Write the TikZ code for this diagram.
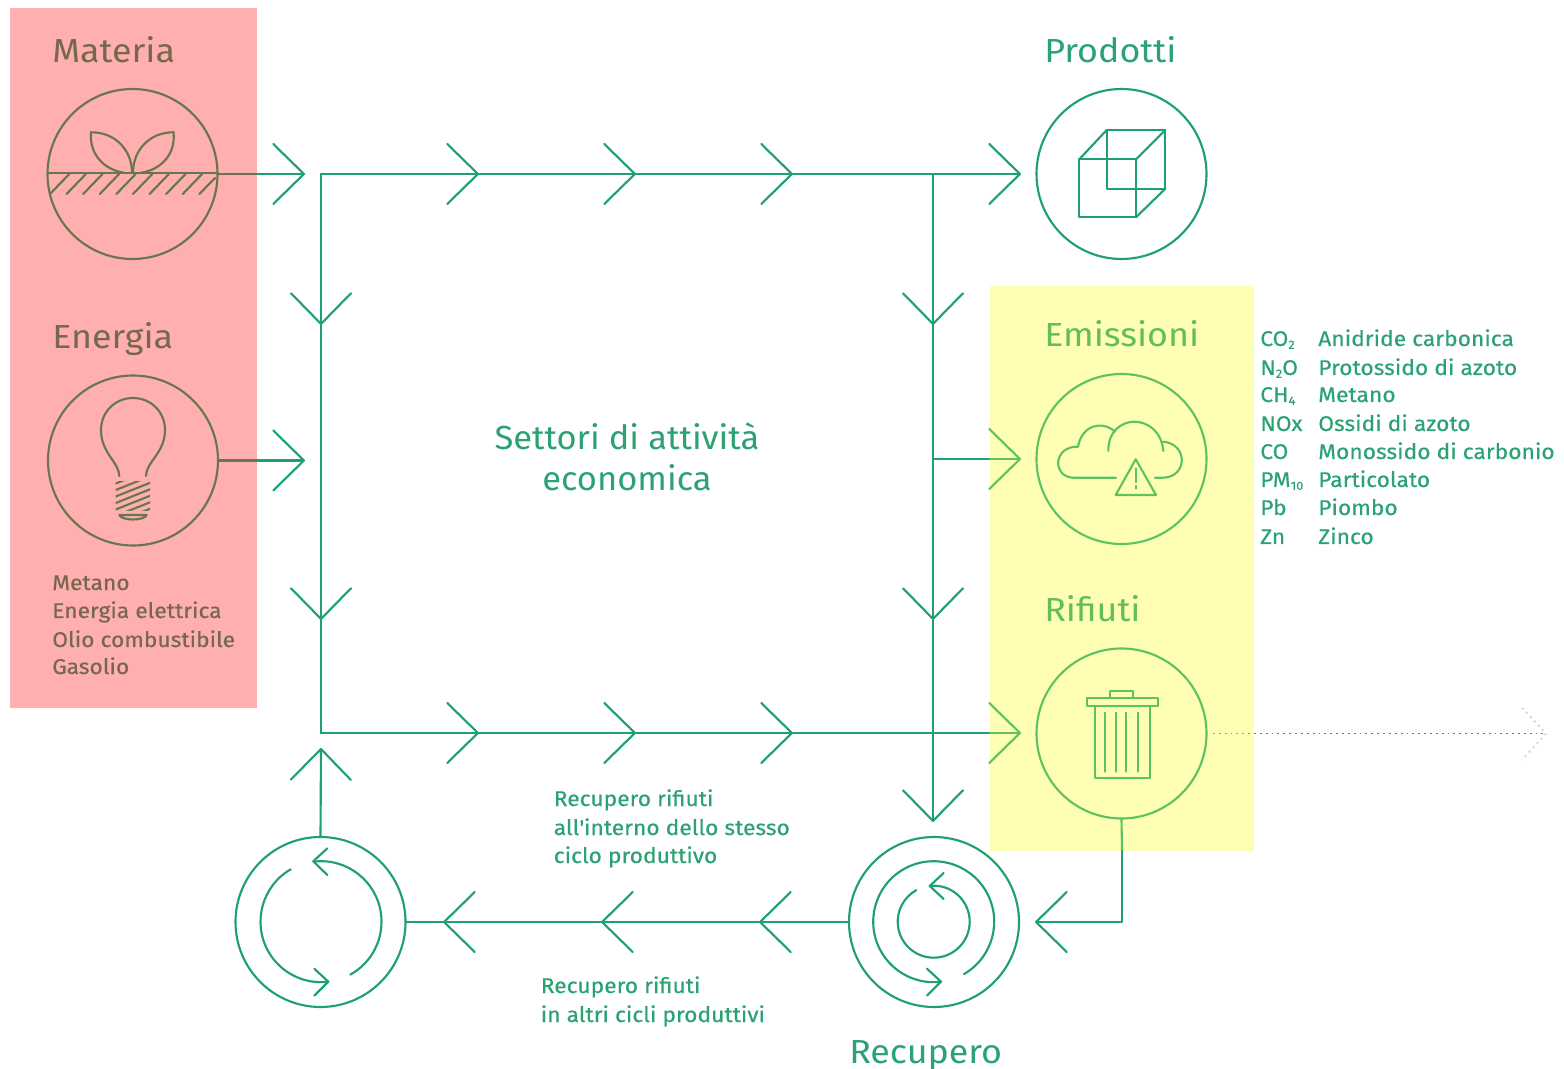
\documentclass[tikz,border=0pt]{standalone}
\usepackage{fontspec}
\setmainfont{Fira Sans}
\newfontfamily\headf[FakeStretch=1.075]{Fira Sans}
\newfontfamily\centf[FakeStretch=1.035]{Fira Sans}
\newfontfamily\bodyf[FakeStretch=1.07,FakeBold=0.35]{Fira Sans}
\usetikzlibrary{arrows.meta}
\definecolor{gr}{HTML}{1FA071}
\definecolor{ol}{HTML}{66774F}
\definecolor{lm}{HTML}{5CC363}
\definecolor{olt}{HTML}{76684F}
\definecolor{pinkbg}{HTML}{FFAFAF}
\definecolor{yelbg}{HTML}{FFFFB3}
\definecolor{txt}{HTML}{2BA274}
\definecolor{lmt}{HTML}{62BE5C}
\definecolor{fade}{HTML}{BFDFD2}
\newcommand{\subs}[1]{\raisebox{-0.25ex}{\fontsize{9pt}{9pt}\selectfont #1}}
\tikzset{
  x=0.75pt,y=-0.75pt,
  ln/.style={line width=1.6pt,line cap=round,line join=round},
  disc/.style={circle,draw,line width=1.6pt,minimum size=127.5pt,inner sep=0pt,outer sep=0pt},
  chev/.style={-{Straight Barb[length=23pt,width=45pt,line width=1.6pt,round]}},
  head/.style={anchor=base west,inner sep=0pt,font=\headf\fontsize{25pt}{25pt}\selectfont},
  cent/.style={anchor=base,inner sep=0pt,font=\centf\fontsize{25pt}{25pt}\selectfont},
  body/.style={anchor=base west,inner sep=0pt,font=\bodyf\fontsize{16pt}{16pt}\selectfont},
  dots/.style={line width=1.4pt,dash pattern=on 1.4pt off 3pt},
}
\begin{document}
\begin{tikzpicture}
\useasboundingbox (0,0) rectangle (1564,1069);
\fill[white] (0,0) rectangle (1564,1069);
\fill[pinkbg] (10,8) rectangle (257,708);
\fill[yelbg] (990,286) rectangle (1254,851);

% discs
\node[disc,draw=ol] (materia) at (132.5,174) {};
\node[disc,draw=ol] (energia) at (133,460.5) {};
\node[disc,draw=gr] (prodotti) at (1121.5,174) {};
\node[disc,draw=lm] (emissioni) at (1121.5,459) {};
\node[disc,draw=lm] (rifiuti) at (1121.5,733.5) {};
\node[disc,draw=gr] (riciclo) at (320.5,922) {};
\node[disc,draw=gr] (recupero) at (934,922) {};

% junction coordinates
\coordinate (pk1) at (257,174); \coordinate (mt) at (305,174);
\coordinate (pk2) at (257,460.5); \coordinate (et) at (305,460.5);
\coordinate (tl) at (321,174); \coordinate (t1) at (479,174); \coordinate (t2) at (636,174);
\coordinate (t3) at (793,174); \coordinate (tj) at (933,174); \coordinate (t4) at (1021,174);
\coordinate (l1) at (321,325); \coordinate (l2) at (321,620); \coordinate (bl) at (321,733);
\coordinate (b1) at (479,733); \coordinate (b2) at (636,733); \coordinate (b3) at (793,733);
\coordinate (bj) at (933,733); \coordinate (by) at (990,733); \coordinate (b4) at (1021,733);
\coordinate (r1) at (933,325); \coordinate (rj) at (933,459); \coordinate (r2) at (933,620);
\coordinate (r3) at (933,822); \coordinate (ry) at (990,459); \coordinate (r4) at (1021,459);
\coordinate (w0) at (1122,851); \coordinate (w1) at (1122,922); \coordinate (w2) at (1035,922);
\coordinate (c1) at (759,922); \coordinate (c2) at (601,922); \coordinate (c3) at (443,922);
\coordinate (up) at (321,748);
\coordinate (d0) at (1213,733.5); \coordinate (d1) at (1254,733.5); \coordinate (d2) at (1546,733.5);
\coordinate (d3) at (1522,708); \coordinate (d4) at (1522,760);

% connectors
\draw[ln,ol] (materia.east) -- (pk1);
\draw[ln,gr,chev] (pk1) -- (mt);
\draw[ln,ol] (energia.east) -- (pk2);
\draw[ln,gr,chev] (pk2) -- (et);
\draw[ln,gr,chev] (tl) -- (t1);
\draw[ln,gr,chev] (t1) -- (t2);
\draw[ln,gr,chev] (t2) -- (t3);
\draw[ln,gr,chev] (t3) -- (t4);
\draw[ln,gr,chev] (tl) -- (l1);
\draw[ln,gr,chev] (l1) -- (l2);
\draw[ln,gr] (l2) -- (bl);
\draw[ln,gr,chev] (bl) -- (b1);
\draw[ln,gr,chev] (b1) -- (b2);
\draw[ln,gr,chev] (b2) -- (b3);
\draw[ln,gr] (b3) -- (by);
\draw[ln,lm,chev] (by) -- (b4);
\draw[ln,gr,chev] (tj) -- (r1);
\draw[ln,gr,chev] (r1) -- (r2);
\draw[ln,gr,chev] (r2) -- (r3);
\draw[ln,gr] (rj) -- (ry);
\draw[ln,lm,chev] (ry) -- (r4);
\draw[ln,lm] (rifiuti.south) -- (w0);
\draw[ln,gr,chev] (w0) -- (w1) -- (w2);
\draw[ln,gr,chev] (recupero.west) -- (c1);
\draw[ln,gr,chev] (c1) -- (c2);
\draw[ln,gr,chev] (c2) -- (c3);
\draw[ln,gr] (c3) -- (riciclo.east);
\draw[ln,gr,chev] (riciclo.north) -- (up);
\draw[dots,lm] (d0) -- (d1);
\draw[dots,gr] (d1) -- (d2);
\draw[dots,fade] (d3) -- (d2) -- (d4);

% plant icon
\begin{scope}[ln,ol]
\draw (48,172.7) -- (217,172.7);
\draw (91,132.3) .. controls (115,132) and (132,150) .. (132,172.7);
\draw (91,132.3) .. controls (89,155) and (105,170) .. (124,172.7);
\draw (173.5,132.3) .. controls (150,132) and (133,150) .. (133,172.7);
\draw (173.5,132.3) .. controls (176,155) and (160,170) .. (141,172.7);
\foreach \i in {0,...,8}{
  \draw ({69.3+16.6*\i},174) -- ({50+16.6*\i},194);
}
\draw (215,178) -- (199.4,194);
\end{scope}

% bulb icon
\begin{scope}[ln,ol]
\draw (119.3,476) .. controls (119,462) and (101,453) .. (101,430)
   .. controls (101,412) and (115,398) .. (133,398)
   .. controls (151,398) and (165,412) .. (165,430)
   .. controls (165,453) and (146,462) .. (146,476);
\begin{scope}
\clip (115.5,481.5) rectangle (150,510.5);
\foreach \y in {485,491.5,...,530}{
  \draw[line cap=butt] (112,\y) -- (152,{\y-16});
}
\end{scope}
\draw (119.3,515) -- (146.7,515) .. controls (144,521) and (122,521) .. cycle;
\end{scope}

% cube icon
\begin{scope}[ln,gr]
\draw (1079.3,159.3) rectangle (1136,217.3);
\draw (1106.7,130) rectangle (1165.3,188.7);
\draw (1079.3,159.3) -- (1106.7,130);
\draw (1136,159.3) -- (1165.3,130);
\draw (1136,217.3) -- (1165.3,188.7);
\end{scope}

% cloud icon
\begin{scope}[ln,lm]
\draw (1116,477.7) -- (1073.3,477.7) .. controls (1052,477) and (1053,446) .. (1078,446.7)
   .. controls (1082,425) and (1102,420) .. (1115,431.7);
\draw (1108.3,451) .. controls (1108,412) and (1160,412) .. (1163.3,451);
\draw (1163.3,441.7) .. controls (1188,444) and (1188,477) .. (1163,477.7) -- (1155,477.7);
\draw (1135.7,459.3) -- (1115.7,495) -- (1156,495) -- cycle;
\draw (1135.7,468.3) -- (1135.7,482.3);
\draw (1135.7,486) -- (1135.7,488.5);
\end{scope}

% bin icon
\begin{scope}[ln,lm]
\draw (1087.3,698.3) rectangle (1157.7,706);
\draw (1110.3,698.3) rectangle (1132.7,690.7);
\draw (1095,706) rectangle (1150,778.3);
\foreach \x in {1104.7,1116.3,1126.3,1138}{ \draw (\x,712.7) -- (\x,771.7); }
\end{scope}

% cycle icon, left
\begin{scope}[ln,gr,shift={(321,921.7)}]
\draw (-97:60.5) arc[start angle=-97,end angle=61,radius=60.5];
\draw (-120:60.5) arc[start angle=-120,end angle=-277,radius=60.5];
\draw (6.3,-73.3) -- (-7.7,-60.5) -- (6.3,-46.7);
\draw (-6.7,47) -- (7.3,60) -- (-6.7,74);
\end{scope}

% cycle icon, right
\begin{scope}[ln,gr,shift={(933.7,921.7)}]
\draw (60:60.5) arc[start angle=60,end angle=-277,radius=60.5];
\draw (-96:36) arc[start angle=-96,end angle=241,radius=36];
\draw (-6.7,47) -- (7.3,60) -- (-6.7,74);
\draw (10,-48.7) -- (-4,-35.7) -- (10,-22.7);
\end{scope}

% texts
\node[head,text=olt] (tmateria) at (52,63) {Materia};
\node[head,text=olt] (tenergia) at (52,349) {Energia};
\node[head,text=txt] (tprodotti) at (1044,63) {Prodotti};
\node[head,text=lmt] (temissioni) at (1044,347) {Emissioni};
\node[head,text=lmt] (trifiuti) at (1044,621) {Rifiuti};
\node[head,text=txt] (trecupero) at (849,1063) {Recupero};
\node[cent,text=txt] (tsett1) at (627,450) {Settori di attività};
\node[cent,text=txt] (tsett2) at (627,491) {economica};
\node[body,text=olt] (m1) at (52,590) {Metano};
\node[body,text=olt] (m2) at (52,618) {Energia elettrica};
\node[body,text=olt] (m3) at (52,647) {Olio combustibile};
\node[body,text=olt] (m4) at (52,674) {Gasolio};
\node[body,text=txt] (ra1) at (553.5,806) {Recupero rifiuti};
\node[body,text=txt] (ra2) at (553.5,835) {all\textquotesingle interno dello stesso};
\node[body,text=txt] (ra3) at (553.5,863) {ciclo produttivo};
\node[body,text=txt] (rb1) at (540.5,993) {Recupero rifiuti};
\node[body,text=txt] (rb2) at (540.5,1022) {in altri cicli produttivi};
\node[body,text=txt] (k1) at (1260,346) {CO\subs{2}};
\node[body,text=txt] (v1) at (1318,346) {Anidride carbonica};
\node[body,text=txt] (k2) at (1260,375) {N\subs{2}O};
\node[body,text=txt] (v2) at (1318,375) {Protossido di azoto};
\node[body,text=txt] (k3) at (1260,402) {CH\subs{4}};
\node[body,text=txt] (v3) at (1318,402) {Metano};
\node[body,text=txt] (k4) at (1260,431) {NOx};
\node[body,text=txt] (v4) at (1318,431) {Ossidi di azoto};
\node[body,text=txt] (k5) at (1260,459) {CO};
\node[body,text=txt] (v5) at (1318,459) {Monossido di carbonio};
\node[body,text=txt] (k6) at (1260,487) {PM\subs{10}};
\node[body,text=txt] (v6) at (1318,487) {Particolato};
\node[body,text=txt] (k7) at (1260,515) {Pb};
\node[body,text=txt] (v7) at (1318,515) {Piombo};
\node[body,text=txt] (k8) at (1260,544) {Zn};
\node[body,text=txt] (v8) at (1318,544) {Zinco};
\end{tikzpicture}
\end{document}
